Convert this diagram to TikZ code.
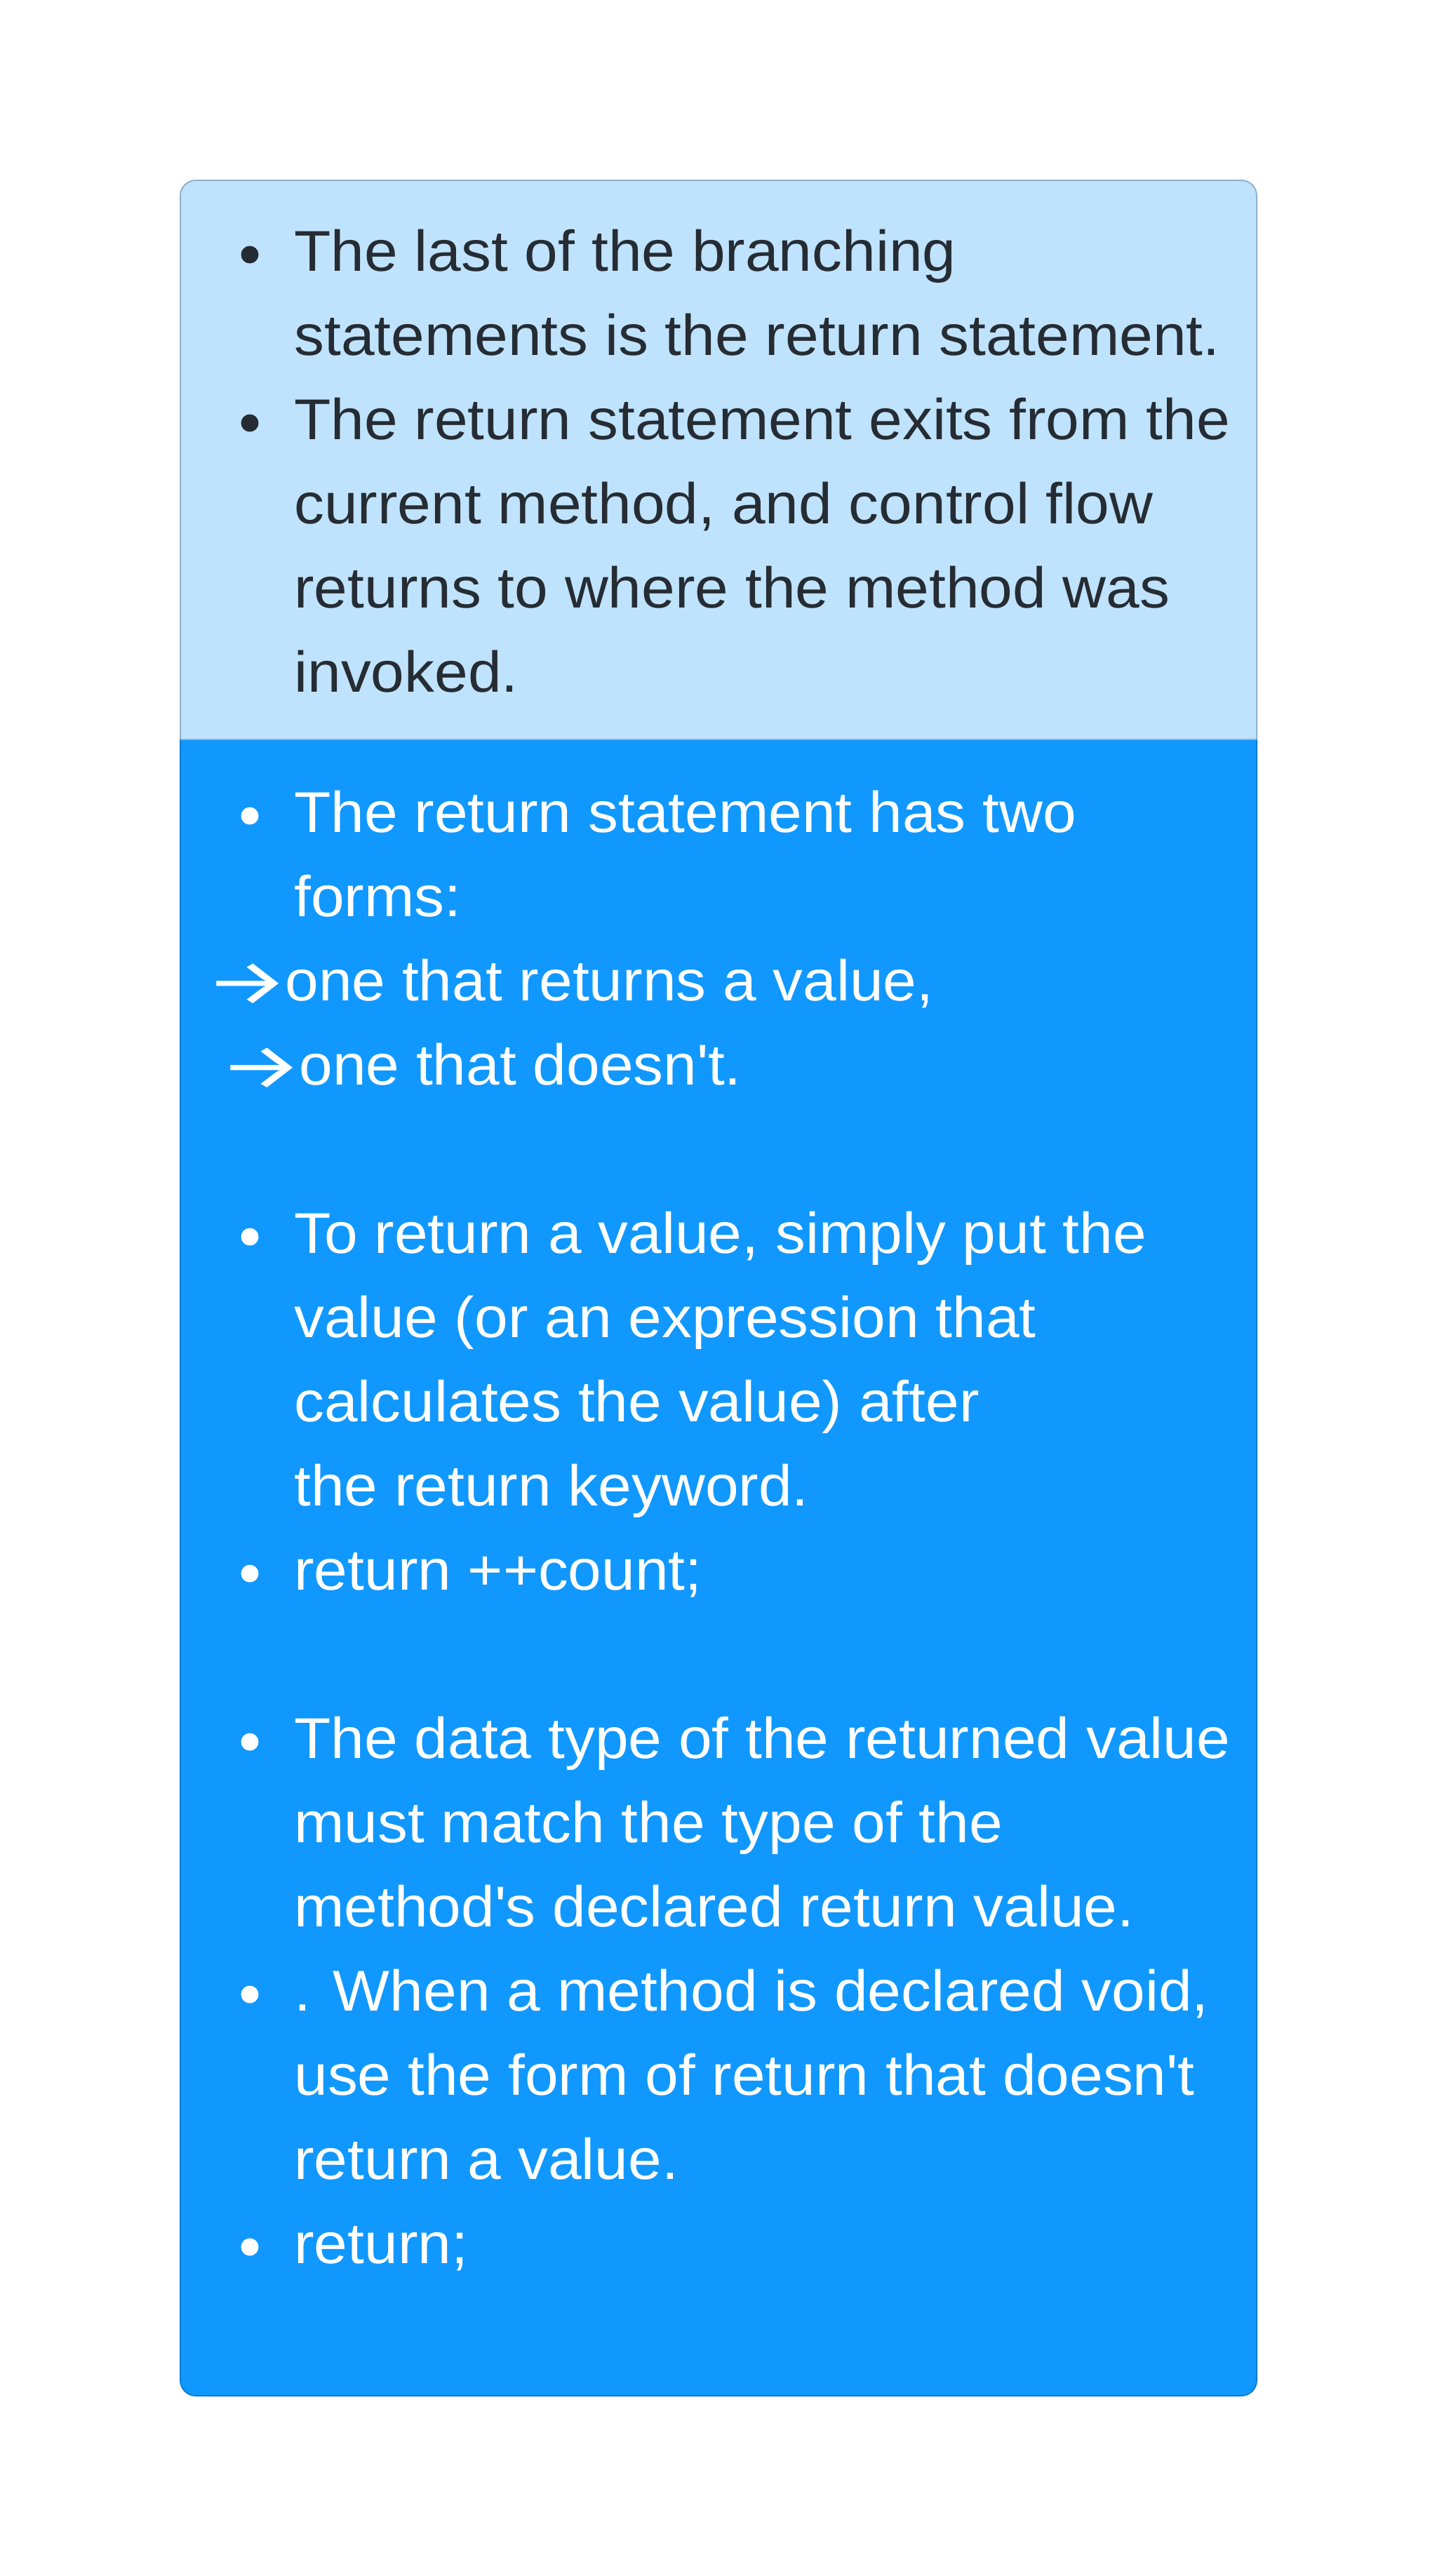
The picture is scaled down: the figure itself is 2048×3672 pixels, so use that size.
\documentclass[tikz,border=0pt]{standalone}
\usepackage{fontspec}
\setmainfont{Liberation Sans}[FakeStretch=1.045]
\newfontfamily\arrfont{Fira Sans}
\definecolor{upfill}{HTML}{BFE3FC}
\definecolor{updraw}{HTML}{8FB3CF}
\definecolor{lofill}{HTML}{1098FE}
\definecolor{lodraw}{HTML}{0B7DD6}
\definecolor{dark}{HTML}{262C33}
\tikzset{
  x=0.5pt, y=-0.5pt,
  txt/.style={anchor=base west, inner sep=0pt, font=\fontsize{41pt}{60pt}\selectfont},
  uptxt/.style={txt, text=dark},
  lotxt/.style={txt, text=white},
  bul/.style={circle, inner sep=0pt, minimum size=12.5pt},
  upbul/.style={bul, fill=dark},
  lobul/.style={bul, fill=white},
  upbox/.style={fill=upfill, draw=updraw, line width=1pt, rounded corners=11pt},
  lobox/.style={fill=lofill, draw=lodraw, line width=1pt, rounded corners=11pt},
}
\newcommand{\arr}{\makebox[50pt][l]{\hspace{-7pt}\raisebox{-3pt}{\scalebox{1}[0.69]{\resizebox{60pt}{!}{\arrfont →}}}}}
\begin{document}
\begin{tikzpicture}
\useasboundingbox[fill=white] (0,0) rectangle (2048,3672);
% upper section
\begin{scope}
  \clip (0,0) rectangle (2048,1054);
  \draw[upbox] (257,257) rectangle (1791,1120);
\end{scope}
% lower section
\begin{scope}
  \clip (0,1054) rectangle (2048,3672);
  \draw[lobox] (257,990) rectangle (1791,3415);
\end{scope}
\draw[updraw, line width=1pt] (257,1054) -- (1791,1054);

% upper texts
\node[upbul] (ub1) at (356,363) {};
\node[uptxt] (u1) at (419,386) {The last of the branching};
\node[uptxt] (u2) at (419,506) {statements is the return statement.};
\node[upbul] (ub2) at (356,603) {};
\node[uptxt] (u3) at (419,626) {The return statement exits from the};
\node[uptxt] (u4) at (419,746) {current method, and control flow};
\node[uptxt] (u5) at (419,866) {returns to where the method was};
\node[uptxt] (u6) at (419,986) {invoked.};

% lower texts
\node[lobul] (lb1) at (356,1163) {};
\node[lotxt] (l1) at (419,1186) {The return statement has two};
\node[lotxt] (l2) at (419,1306) {forms:};
\node[lotxt] (l3) at (306,1426) {\arr one that returns a value,};
\node[lotxt] (l4) at (326,1546) {\arr one that doesn\textquotesingle t.};
\node[lobul] (lb2) at (356,1763) {};
\node[lotxt] (l5) at (419,1786) {To return a value, simply put the};
\node[lotxt] (l6) at (419,1906) {value (or an expression that};
\node[lotxt] (l7) at (419,2026) {calculates the value) after};
\node[lotxt] (l8) at (419,2146) {the return keyword.};
\node[lobul] (lb3) at (356,2243) {};
\node[lotxt] (l9) at (419,2266) {return ++count;};
\node[lobul] (lb4) at (356,2483) {};
\node[lotxt] (l10) at (419,2506) {The data type of the returned value};
\node[lotxt] (l11) at (419,2626) {must match the type of the};
\node[lotxt] (l12) at (419,2746) {method\textquotesingle s declared return value.};
\node[lobul] (lb5) at (356,2843) {};
\node[lotxt] (l13) at (419,2866) {. When a method is declared void,};
\node[lotxt] (l14) at (419,2986) {use the form of return that doesn\textquotesingle t};
\node[lotxt] (l15) at (419,3106) {return a value.};
\node[lobul] (lb6) at (356,3203) {};
\node[lotxt] (l16) at (419,3226) {return;};
\end{tikzpicture}
\end{document}
